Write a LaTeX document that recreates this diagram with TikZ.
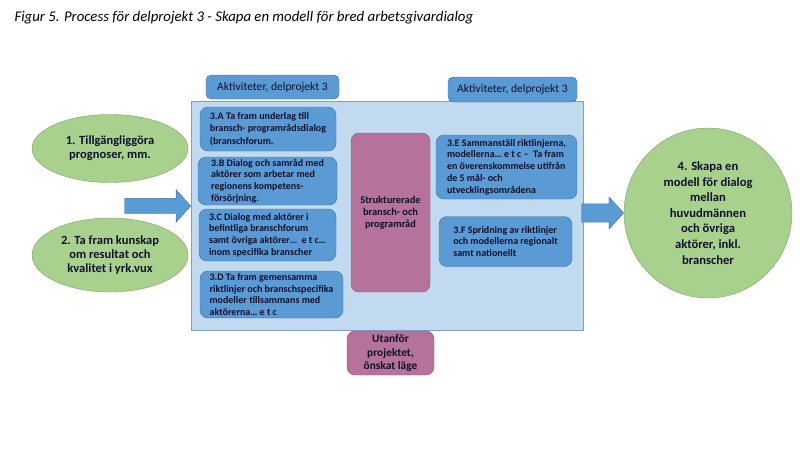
\documentclass[tikz,border=0pt]{standalone}
\usepackage{fontspec}
\setmainfont{Carlito}
\usetikzlibrary{shapes.arrows,shapes.geometric}
\definecolor{ljusbla}{HTML}{C2DAF0}
\definecolor{ramkant}{HTML}{7F9FC8}
\definecolor{mellanbla}{HTML}{5B9BD5}
\definecolor{morkbla}{HTML}{41719C}
\definecolor{rosa}{HTML}{B5739B}
\definecolor{rosakant}{HTML}{8C5576}
\definecolor{gron}{HTML}{A9D18E}
\definecolor{gronkant}{HTML}{7E9E6A}
\definecolor{textfarg}{HTML}{10102A}
\tikzset{
  akt/.style = {draw=morkbla, fill=mellanbla, rounded corners=5pt, inner sep=0pt,
    font=\fontsize{11.6}{14}\selectfont, text=textfarg},
  steg/.style = {draw=morkbla, fill=mellanbla, rounded corners=8pt, inner sep=0pt,
    align=left, font=\fontsize{10}{11.8}\selectfont\bfseries, text=textfarg},
  rosaruta/.style = {draw=rosakant, fill=rosa, rounded corners=8pt, inner sep=0pt,
    align=center, font=\fontsize{10.4}{11.8}\selectfont\bfseries, text=textfarg},
  gronform/.style = {draw=gronkant, fill=gron, ellipse, inner sep=0pt,
    align=center, font=\fontsize{12.5}{14.2}\selectfont\bfseries, text=textfarg},
  blockpil/.style = {single arrow, draw=morkbla, fill=mellanbla, inner xsep=0pt,
    single arrow tip angle=96}
}
\begin{document}
\begin{tikzpicture}[x=1pt, y=-1pt]
\useasboundingbox (0,0) rectangle (800,450);
\node [anchor=base west, font=\fontsize{14.8}{16}\selectfont\itshape] (rubrik) at (11,21) {Figur 5. Process för delprojekt 3 - Skapa en modell för bred arbetsgivardialog};
\draw [draw=ramkant, fill=ljusbla] (191,101) rectangle (583,330);
\node [coordinate] (ramV) at (191,206) {};
\node [akt, minimum width=133pt, minimum height=24pt] (akt1) at (272.5,87) {Aktiviteter,\ delprojekt 3};
\node [akt, minimum width=129pt, minimum height=25pt] (akt2) at (512.5,89.5) {Aktiviteter,\ delprojekt 3};
\node [steg, minimum width=136pt, minimum height=44pt, font=\fontsize{10}{12.5}\selectfont\bfseries] (A) at (268,129) {3.A Ta fram underlag till\\bransch- programrådsdialog\\(branschforum.};
\node [steg, minimum width=139pt, minimum height=48pt] (B) at (267.5,181) {3.B Dialog och samråd med\\aktörer som arbetar med\\regionens kompetens-\\försörjning.};
\node [steg, minimum width=137pt, minimum height=52pt] (C) at (267.5,235) {3.C Dialog med aktörer i\\befintliga branschforum\\samt övriga aktörer\dots\ \ e t c\dots\\inom specifika branscher};
\node [steg, minimum width=143pt, minimum height=47pt] (D) at (271.5,294.5) {3.D Ta fram gemensamma\\riktlinjer och branschspecifika\\modeller tillsammans med\\aktörerna\dots\ e t c};
\node [rosaruta, minimum width=79pt, minimum height=159pt] (strukt) at (390.5,212.5) {Strukturerade\\bransch- och\\programråd};
\node [steg, minimum width=141pt, minimum height=64pt] (E) at (506.5,167) {3.E Sammanställ riktlinjerna,\\modellerna\dots\ e t c --\ \ Ta fram\\en överenskommelse utifrån\\de 5 mål- och\\utvecklingsområdena};
\node [steg, minimum width=133pt, minimum height=50pt] (F) at (505.5,241.5) {3.F Spridning av riktlinjer\\och modellerna regionalt\\samt nationellt};
\node [rosaruta, minimum width=87pt, minimum height=44pt, font=\fontsize{11.4}{13.7}\selectfont\bfseries] (utanfor) at (390.5,353) {Utanför\\projektet,\\önskat läge};
\node [gronform, minimum width=156pt, minimum height=68pt] (mal1) at (110,148.5) {1. Tillgängliggöra\\prognoser, mm.};
\node [gronform, minimum width=156pt, minimum height=74pt] (mal2) at (110,255) {2. Ta fram kunskap\\om resultat och\\kvalitet i yrk.vux};
\node [gronform, minimum width=168pt, minimum height=170pt, font=\fontsize{12.6}{15.6}\selectfont\bfseries] (mal4) at (708,213) {4. Skapa en\\modell för dialog\\mellan\\huvudmännen\\och övriga\\aktörer, inkl.\\branscher};
\node [blockpil, anchor=tip, minimum height=66pt, minimum width=32pt, inner ysep=7.5pt, single arrow head extend=8.5pt] (pil1) at (ramV) {};
\node [blockpil, anchor=tip, minimum height=42pt, minimum width=32pt, inner ysep=9pt, single arrow head extend=7pt] (pil2) at (mal4.west) {};
\end{tikzpicture}
\end{document}
